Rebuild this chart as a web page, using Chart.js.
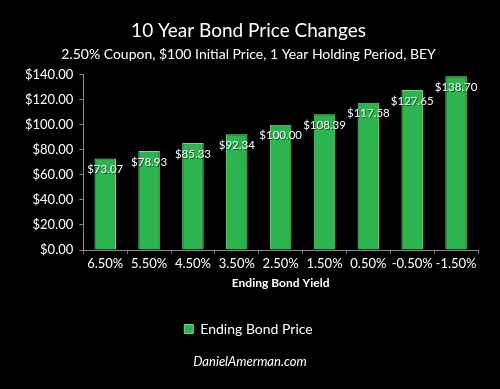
<!DOCTYPE html>
<html><head><meta charset="utf-8">
<script src="https://cdn.jsdelivr.net/npm/chart.js@4/dist/chart.umd.min.js"></script>
<style>
html,body{margin:0;padding:0;background:#000;}
#wrap{position:relative;width:500px;height:389px;}
#foot{position:absolute;left:0;width:500px;top:353px;text-align:center;color:#fff;font:italic 13px Lato, sans-serif;}
</style></head>
<body><div id="wrap"><canvas id="c" width="500" height="389"></canvas><div id="foot">DanielAmerman.com</div></div>
<script>
const categories = ['6.50%','5.50%','4.50%','3.50%','2.50%','1.50%','0.50%','-0.50%','-1.50%'];
const prices = [73.07,78.93,85.33,92.34,100.00,108.39,117.58,127.65,138.70];
const yTicks = [0,20,40,60,80,100,120,140];
const fontFam = 'Lato, "Open Sans", sans-serif';

const labelPlugin = {
  id:'barLabels',
  afterDatasetsDraw(chart){
    const ctx = chart.ctx;
    const meta = chart.getDatasetMeta(0);
    ctx.save();
    ctx.font = '11.5px '+fontFam;
    ctx.textAlign='center'; ctx.textBaseline='middle';
    meta.data.forEach((bar,i)=>{
      const t = '$'+prices[i].toFixed(2);
      ctx.fillStyle='rgba(0,0,0,0.55)';
      ctx.fillText(t, bar.x+1, bar.y+12);
      ctx.fillStyle='#fff';
      ctx.fillText(t, bar.x, bar.y+11);
    });
    ctx.restore();
  }
};

const ctx = document.getElementById('c').getContext('2d');
new Chart(ctx,{
  type:'bar',
  data:{labels:categories,datasets:[{
    label:'Ending Bond Price',
    data:prices,
    backgroundColor:'#2cb44f',
    borderColor:'#72d98c',
    borderWidth:1,
    barPercentage:0.49,
    categoryPercentage:1.0
  }]},
  options:{
    responsive:false,animation:false,
    layout:{padding:{left:19,right:22,top:0,bottom:43}},
    plugins:{
      title:{display:true,text:'10 Year Bond Price Changes',color:'#fff',font:{family:fontFam,size:19,weight:'normal'},padding:{top:19,bottom:4}},
      subtitle:{display:true,text:'2.50% Coupon, $100 Initial Price, 1 Year Holding Period, BEY',color:'#fff',font:{family:fontFam,size:14},padding:{bottom:12}},
      legend:{position:'bottom',labels:{color:'#fff',font:{family:fontFam,size:14},boxWidth:9,boxHeight:9,padding:14}},
      tooltip:{enabled:false}
    },
    scales:{
      x:{
        ticks:{color:'#fff',font:{family:fontFam,size:13},padding:2,maxRotation:0,minRotation:0,autoSkip:false},
        grid:{display:true,drawOnChartArea:false,drawTicks:true,tickLength:4,color:'#777'},
        border:{color:'#888',width:1},
        title:{display:true,text:'Ending Bond Yield',color:'#fff',font:{family:fontFam,size:12,weight:'bold'},padding:{top:2,bottom:18}}
      },
      y:{
        min:0,max:140,
        afterBuildTicks:(s)=>{s.ticks=yTicks.map(v=>({value:v}));},
        ticks:{color:'#fff',font:{family:fontFam,size:13},padding:6,callback:(v)=>'$'+Number(v).toFixed(2)},
        grid:{display:true,drawOnChartArea:false,drawTicks:true,tickLength:4,color:'#888'},
        border:{color:'#888',width:1}
      }
    }
  },
  plugins:[labelPlugin]
});
</script></body></html>
